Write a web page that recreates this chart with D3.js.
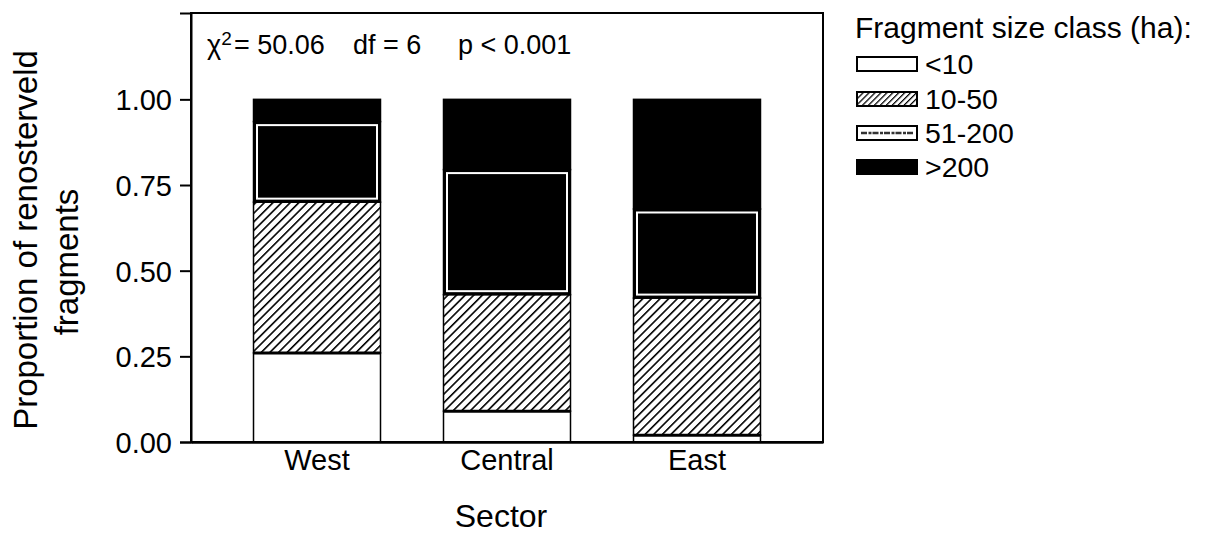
<!DOCTYPE html>
<html>
<head>
<meta charset="utf-8">
<script src="https://cdn.jsdelivr.net/npm/d3@7"></script>
<style>
  html, body { margin: 0; padding: 0; background: #fff; }
  svg { display: block; font-family: "Liberation Sans", Arial, sans-serif; }
</style>
</head>
<body>
<svg id="chart" width="1205" height="533"></svg>
<script>
// Sectors along the x axis
const sectors = ["West", "Central", "East"];
// Fragment size classes (ha), stacked bottom to top
const sizeClasses = ["<10", "10-50", "51-200", ">200"];
// Proportion of fragments in each size class, per sector
const propLt10    = [0.26, 0.09, 0.02];
const prop10to50  = [0.44, 0.34, 0.40];
const prop51to200 = [0.235, 0.365, 0.26];
const propGt200   = [0.065, 0.205, 0.32];
// Y axis ticks
const yTicks = [0, 0.25, 0.5, 0.75, 1.0];

const rows = sectors.map((s, i) => ({
  sector: s,
  "<10": propLt10[i],
  "10-50": prop10to50[i],
  "51-200": prop51to200[i],
  ">200": propGt200[i]
}));
const series = d3.stack().keys(sizeClasses)(rows);

const svg = d3.select("#chart");
const plotLeft = 191, plotRight = 823, plotTop = 13, plotBottom = 442;

const x = d3.scaleBand().domain(sectors).range([plotLeft, plotRight])
  .paddingInner(0.3316).paddingOuter(0.329);
const y = d3.scaleLinear().domain([0, 1.252]).range([plotBottom, plotTop]);

// Diagonal hatch for the 10-50 class
const defs = svg.append("defs");
const hatch = defs.append("pattern")
  .attr("id", "hatch").attr("patternUnits", "userSpaceOnUse")
  .attr("width", 6.1).attr("height", 10)
  .attr("patternTransform", "rotate(45)");
hatch.append("rect").attr("width", 6.1).attr("height", 10).attr("fill", "#fff");
hatch.append("line").attr("x1", 0.8).attr("x2", 0.8).attr("y1", 0).attr("y2", 10)
  .attr("stroke", "#000").attr("stroke-width", 1.6);

const hatchSmall = defs.append("pattern")
  .attr("id", "hatchSmall").attr("patternUnits", "userSpaceOnUse")
  .attr("width", 4.2).attr("height", 10)
  .attr("patternTransform", "rotate(45)");
hatchSmall.append("rect").attr("width", 4.2).attr("height", 10).attr("fill", "#fff");
hatchSmall.append("line").attr("x1", 0.6).attr("x2", 0.6).attr("y1", 0).attr("y2", 10)
  .attr("stroke", "#000").attr("stroke-width", 1.3);

const fillFor = { "<10": "#fff", "10-50": "url(#hatch)", "51-200": "#000", ">200": "#000" };

// Stacked bars
const layers = svg.append("g").selectAll("g").data(series).join("g");
layers.selectAll("rect.seg")
  .data(d => d.map(v => ({ key: d.key, v, sector: v.data.sector })))
  .join("rect")
  .attr("class", "seg")
  .attr("x", d => x(d.sector))
  .attr("width", x.bandwidth())
  .attr("y", d => y(d.v[1]))
  .attr("height", d => y(d.v[0]) - y(d.v[1]))
  .attr("fill", d => fillFor[d.key])
  .attr("stroke", "#000")
  .attr("stroke-width", 1.5);

// Inner white rim of the 51-200 segments
const mid = series.find(s => s.key === "51-200");
svg.append("g").selectAll("rect")
  .data(mid.map(v => ({ v, sector: v.data.sector })))
  .join("rect")
  .attr("x", d => x(d.sector) + 3.5)
  .attr("width", x.bandwidth() - 7)
  .attr("y", d => y(d.v[1]) + 3.5)
  .attr("height", d => y(d.v[0]) - y(d.v[1]) - 7)
  .attr("fill", "#000")
  .attr("stroke", "#fff")
  .attr("stroke-width", 2);

// Heavier line on top of the <10 class
const low = series.find(s => s.key === "<10");
svg.append("g").selectAll("line")
  .data(low.map(v => ({ v, sector: v.data.sector })))
  .join("line")
  .attr("x1", d => x(d.sector))
  .attr("x2", d => x(d.sector) + x.bandwidth())
  .attr("y1", d => y(d.v[1]))
  .attr("y2", d => y(d.v[1]))
  .attr("stroke", "#000").attr("stroke-width", 3);

// Plot frame
svg.append("rect")
  .attr("x", plotLeft).attr("y", plotTop)
  .attr("width", plotRight - plotLeft).attr("height", plotBottom - plotTop)
  .attr("fill", "none").attr("stroke", "#000").attr("stroke-width", 2);

// Y axis
const yAxis = svg.append("g")
  .attr("transform", `translate(${plotLeft},0)`)
  .call(d3.axisLeft(y).tickValues(yTicks).tickFormat(d3.format(".2f"))
    .tickSize(11).tickPadding(8));
yAxis.select(".domain").attr("stroke-width", 2);
yAxis.selectAll(".tick line").attr("stroke-width", 2);
yAxis.selectAll("text")
  .attr("font-size", 29).attr("font-family", "Liberation Sans, Arial, sans-serif")
  .attr("fill", "#000").attr("dy", "0.36em");

// X axis
const xAxis = svg.append("g")
  .attr("transform", `translate(0,${plotBottom})`)
  .call(d3.axisBottom(x).tickSize(0).tickPadding(7));
xAxis.select(".domain").attr("stroke-width", 2.5);
xAxis.selectAll("text")
  .attr("font-size", 29).attr("font-family", "Liberation Sans, Arial, sans-serif")
  .attr("fill", "#000");

// Axis titles
svg.append("text")
  .attr("transform", "translate(37,240) rotate(-90)")
  .attr("text-anchor", "middle").attr("font-size", 33)
  .text("Proportion of renosterveld");
svg.append("text")
  .attr("transform", "translate(78,262) rotate(-90)")
  .attr("text-anchor", "middle").attr("font-size", 33)
  .text("fragments");
svg.append("text")
  .attr("x", 501).attr("y", 527)
  .attr("text-anchor", "middle").attr("font-size", 32)
  .text("Sector");

// Test statistics
const stats = svg.append("text").attr("y", 54).attr("font-size", 27);
stats.append("tspan").attr("x", 207).text("\u03C7");
stats.append("tspan").attr("dy", -9).attr("font-size", 19).text("2");
stats.append("tspan").attr("x", 234).attr("dy", 9).text("= 50.06");
stats.append("tspan").attr("x", 353).text("df = 6");
stats.append("tspan").attr("x", 458).text("p < 0.001");

// Legend
const lg = svg.append("g");
lg.append("text").attr("x", 855).attr("y", 38).attr("font-size", 30)
  .text("Fragment size class (ha):");
const rowY = [64, 99, 133, 167];
sizeClasses.forEach((k, i) => {
  const g = lg.append("g").attr("transform", `translate(857,${rowY[i] - 7})`);
  if (k === "51-200") {
    g.append("rect").attr("width", 60).attr("height", 14)
      .attr("fill", "#fff").attr("stroke", "#000").attr("stroke-width", 2);
    g.append("line").attr("x1", 4).attr("x2", 56).attr("y1", 7).attr("y2", 7)
      .attr("stroke", "#333").attr("stroke-width", 2.5).attr("stroke-dasharray", "6 1.5 3 1");
  } else {
    g.append("rect").attr("width", 60).attr("height", 14)
      .attr("fill", k === "10-50" ? "url(#hatchSmall)" : fillFor[k])
      .attr("stroke", "#000").attr("stroke-width", 2);
  }
  lg.append("text").attr("x", 925).attr("y", rowY[i] + 10).attr("font-size", 28.5).text(k);
});
</script>
</body>
</html>
